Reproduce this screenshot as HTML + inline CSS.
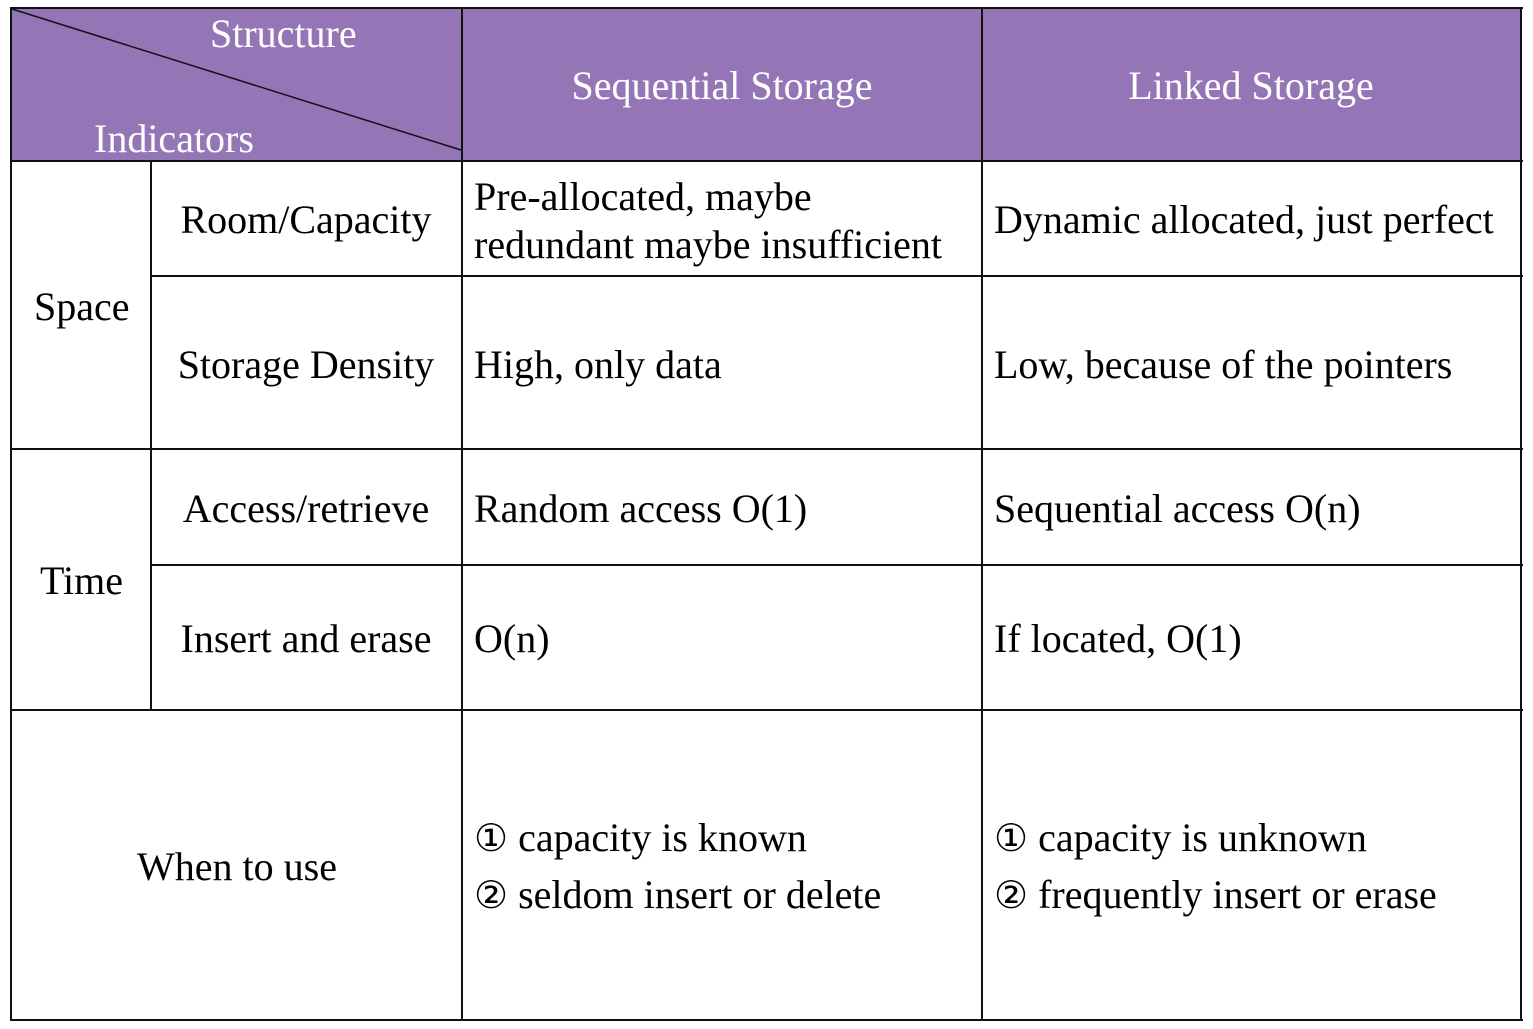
<!DOCTYPE html>
<html><head><meta charset="utf-8"><style>
body{margin:0;width:1533px;height:1029px;background:#fff;position:relative;overflow:hidden;font-family:"Liberation Serif","DejaVu Serif",serif;font-size:40px;color:#000}
.h{position:absolute;background:#111;height:2px}
.v{position:absolute;background:#111;width:2px}
.t{position:absolute;white-space:nowrap;line-height:48px}
.w{color:#fff}
.c{transform:translateX(-50%)}
.n{font-family:"DejaVu Sans",sans-serif;font-size:38px}
</style></head><body>
<div style="position:absolute;left:11px;top:8px;width:1510px;height:153px;background:#9476B6"></div>
<svg style="position:absolute;left:0;top:0" width="1533" height="1029"><line x1="12" y1="9" x2="461" y2="150" stroke="#111" stroke-width="1.5"/></svg>
<div class="h" style="left:10px;top:7px;width:1513px"></div>
<div class="h" style="left:10px;top:160px;width:1513px"></div>
<div class="h" style="left:151px;top:275px;width:1372px"></div>
<div class="h" style="left:10px;top:448px;width:1513px"></div>
<div class="h" style="left:151px;top:564px;width:1372px"></div>
<div class="h" style="left:10px;top:709px;width:1513px"></div>
<div class="h" style="left:10px;top:1019px;width:1513px"></div>
<div class="v" style="left:10px;top:7px;height:1014px"></div>
<div class="v" style="left:150px;top:160px;height:551px"></div>
<div class="v" style="left:461px;top:7px;height:1014px"></div>
<div class="v" style="left:981px;top:7px;height:1014px"></div>
<div class="v" style="left:1520px;top:7px;height:1014px"></div>

<div class="t w" style="left:210px;top:10px">Structure</div>
<div class="t w" style="left:94px;top:115px">Indicators</div>
<div class="t w c" style="left:722px;top:62px">Sequential Storage</div>
<div class="t w c" style="left:1251px;top:62px">Linked Storage</div>

<div class="t" style="left:34px;top:283px">Space</div>
<div class="t c" style="left:306px;top:196px">Room/Capacity</div>
<div class="t c" style="left:306px;top:341px">Storage Density</div>
<div class="t" style="left:474px;top:173px">Pre-allocated, maybe</div>
<div class="t" style="left:474px;top:221px">redundant maybe insufficient</div>
<div class="t" style="left:994px;top:196px">Dynamic allocated, just perfect</div>
<div class="t" style="left:474px;top:341px">High, only data</div>
<div class="t" style="left:994px;top:341px">Low, because of the pointers</div>

<div class="t" style="left:40px;top:557px">Time</div>
<div class="t c" style="left:306px;top:485px">Access/retrieve</div>
<div class="t c" style="left:306px;top:615px">Insert and erase</div>
<div class="t" style="left:474px;top:485px">Random access O(1)</div>
<div class="t" style="left:994px;top:485px">Sequential access O(n)</div>
<div class="t" style="left:474px;top:615px">O(n)</div>
<div class="t" style="left:994px;top:615px">If located, O(1)</div>

<div class="t c" style="left:237px;top:843px">When to use</div>
<div class="t" style="left:474px;top:814px"><span class="n">①</span> capacity is known</div>
<div class="t" style="left:474px;top:871px"><span class="n">②</span> seldom insert or delete</div>
<div class="t" style="left:994px;top:814px"><span class="n">①</span> capacity is unknown</div>
<div class="t" style="left:994px;top:871px"><span class="n">②</span> frequently insert or erase</div>
</body></html>
